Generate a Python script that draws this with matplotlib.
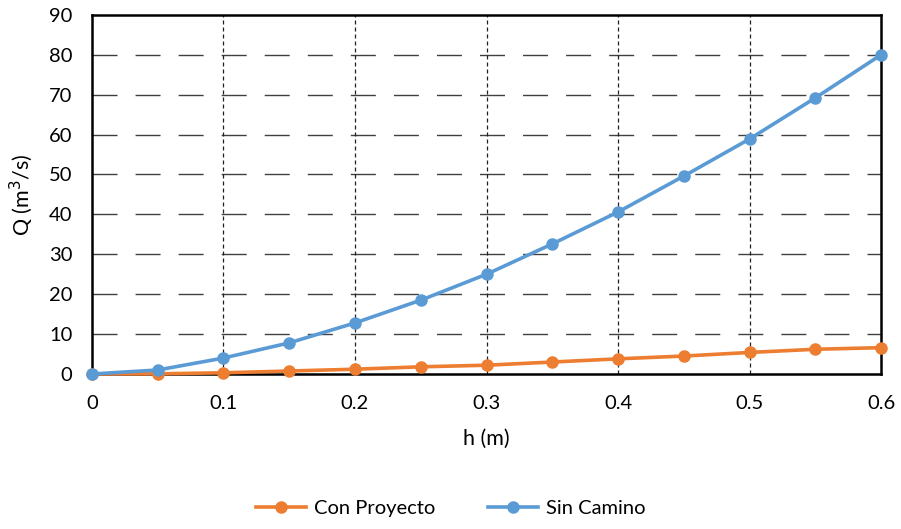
import matplotlib
matplotlib.use("Agg")
import matplotlib.pyplot as plt

h = [0, 0.05, 0.1, 0.15, 0.2, 0.25, 0.3, 0.35, 0.4, 0.45, 0.5, 0.55, 0.6]
con_proyecto = [0, 0.05, 0.3, 0.75, 1.2, 1.8, 2.2, 3.0, 3.8, 4.5, 5.4, 6.2, 6.6]
sin_camino = [0, 1.0, 4.0, 7.8, 12.8, 18.5, 25.0, 32.6, 40.6, 49.6, 58.9, 69.2, 80.0]
xticks = [0, 0.1, 0.2, 0.3, 0.4, 0.5, 0.6]
xticklabels = ["0", "0.1", "0.2", "0.3", "0.4", "0.5", "0.6"]
yticks = list(range(0, 91, 10))

plt.rcParams['font.family'] = ['Lato', 'DejaVu Sans']

fig = plt.figure(figsize=(9.01, 5.29), dpi=100)
ax = fig.add_axes([0.102, 0.293, 0.876, 0.679])

ax.plot(h, con_proyecto, color='#ED7D31', lw=2.6, marker='o', ms=8,
        label='Con Proyecto', zorder=3, clip_on=False)
ax.plot(h, sin_camino, color='#5B9BD5', lw=2.6, marker='o', ms=8,
        label='Sin Camino', zorder=4, clip_on=False)

ax.set_xlim(0, 0.6)
ax.set_ylim(0, 90)
ax.set_xticks(xticks)
ax.set_xticklabels(xticklabels)
ax.set_yticks(yticks)

for y in yticks[1:-1]:
    ax.axhline(y, color='#404040', lw=1.0, dashes=(18, 13), zorder=1)
for x in xticks[1:-1]:
    ax.axvline(x, color='#202020', lw=0.9, dashes=(3.2, 2.4), zorder=1)

for s in ax.spines.values():
    s.set_color('black')
    s.set_linewidth(1.8)

ax.tick_params(axis='x', length=0, labelsize=14.5, pad=15, colors='black')
ax.tick_params(axis='y', length=0, labelsize=14.5, pad=14, colors='black')
ax.set_xlabel('h (m)', fontsize=15.5, labelpad=12)
ax.set_ylabel('Q (m$^3$/s)', fontsize=15.5, labelpad=10)

fig.legend(loc='lower center', ncol=2, frameon=False, fontsize=14.5,
           bbox_to_anchor=(0.5, -0.012), handlelength=2.5, columnspacing=2.6,
           handletextpad=0.4)

fig.savefig('out.png', dpi=100)
